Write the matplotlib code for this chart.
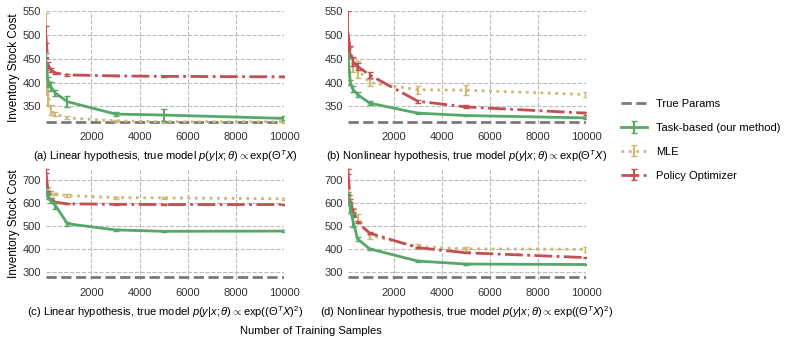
import numpy as np
import matplotlib
matplotlib.use("Agg")
from matplotlib import pyplot as plt

plt.rcParams['font.family'] = ['Liberation Sans', 'DejaVu Sans']
plt.rcParams['mathtext.fontset'] = 'custom'
plt.rcParams['mathtext.rm'] = 'Liberation Sans'
plt.rcParams['mathtext.it'] = 'Liberation Sans:italic'

# training sample sizes
n_samples = [100, 200, 300, 500, 1000, 3000, 5000, 10000]

# (a) linear hypothesis, true model exp(theta^T x)
a_true = 317
a_task = [444, 401, 392, 378, 360, 334, 332, 325]
a_task_err = [17, 10, 10, 6, 11, 4, 12, 4]
a_mle = [460, 378, 342, 334, 326, 320, 318, 318]
a_mle_err = [85, 25, 10, 5, 3, 2, 2, 2]
a_pol = [500, 437, 427, 420, 416, 414, 413, 412]
a_pol_err = [18, 6, 4, 3, 2, 1, 1, 1]

# (b) nonlinear hypothesis, true model exp(theta^T x)
b_true = 317
b_task = [455, 400, 386, 375, 357, 336, 331, 326]
b_task_err = [6, 6, 6, 6, 4, 2, 2, 2]
b_mle = [472, 462, 437, 428, 400, 385, 384, 375]
b_mle_err = [12, 12, 15, 18, 8, 8, 10, 5]
b_pol = [505, 465, 444, 434, 416, 361, 349, 336]
b_pol_err = [45, 12, 10, 8, 6, 3, 3, 3]

# (c) linear hypothesis, true model exp((theta^T x)^2)
c_true = 276
c_task = [646, 628, 609, 588, 509, 482, 476, 477]
c_task_err = [18, 12, 12, 14, 9, 5, 3, 5]
c_mle = [680, 655, 642, 638, 631, 622, 621, 617]
c_mle_err = [20, 12, 8, 6, 5, 4, 4, 4]
c_pol = [738, 645, 617, 602, 595, 593, 592, 592]
c_pol_err = [8, 6, 4, 3, 2, 2, 2, 2]

# (d) nonlinear hypothesis, true model exp((theta^T x)^2)
d_true = 276
d_task = [630, 575, 525, 443, 400, 347, 334, 332]
d_task_err = [15, 20, 30, 8, 5, 3, 3, 3]
d_mle = [695, 615, 560, 537, 458, 410, 400, 398]
d_mle_err = [50, 20, 15, 15, 15, 10, 10, 10]
d_pol = [735, 609, 566, 515, 468, 405, 383, 362]
d_pol_err = [10, 6, 5, 5, 4, 3, 3, 3]

captions = [
    r'(a) Linear hypothesis, true model $p(y|x;\theta) \propto \exp(\Theta^T X)$',
    r'(b) Nonlinear hypothesis, true model $p(y|x;\theta) \propto \exp(\Theta^T X)$',
    r'(c) Linear hypothesis, true model $p(y|x;\theta) \propto \exp((\Theta^T X)^2)$',
    r'(d) Nonlinear hypothesis, true model $p(y|x;\theta) \propto \exp((\Theta^T X)^2)$',
]

panels = [
    (a_true, a_task, a_task_err, a_mle, a_mle_err, a_pol, a_pol_err),
    (b_true, b_task, b_task_err, b_mle, b_mle_err, b_pol, b_pol_err),
    (c_true, c_task, c_task_err, c_mle, c_mle_err, c_pol, c_pol_err),
    (d_true, d_task, d_task_err, d_mle, d_mle_err, d_pol, d_pol_err),
]

green = '#55a868'
yellow = '#ccb974'
red = '#c44e52'
gray = '#7a7a7a'

fig = plt.figure(figsize=(7.89, 3.41), dpi=100)
boxes = [
    [0.058, 0.636, 0.302, 0.332],
    [0.441, 0.636, 0.302, 0.332],
    [0.058, 0.179, 0.302, 0.328],
    [0.441, 0.179, 0.302, 0.328],
]

for i, (box, data) in enumerate(zip(boxes, panels)):
    true_val, task, task_err, mle, mle_err, pol, pol_err = data
    ax = fig.add_axes(box)
    ax.plot(n_samples, [true_val] * len(n_samples), '--', color=gray,
            lw=2, label='True Params', zorder=2)
    ax.errorbar(n_samples, task, yerr=task_err, color=green, ls='-', lw=2,
                capsize=2, elinewidth=1.5, label='Task-based (our method)', zorder=5)
    ax.errorbar(n_samples, mle, yerr=mle_err, color=yellow, ls=':', lw=2,
                capsize=2, elinewidth=1.5, label='MLE', zorder=3)
    ax.errorbar(n_samples, pol, yerr=pol_err, color=red, ls='-.', lw=2,
                capsize=2, elinewidth=1.5, label='Policy Optimizer', zorder=4)

    ax.set_xlim(100, 10000)
    ax.set_xticks([2000, 4000, 6000, 8000, 10000])
    if i < 2:
        ax.set_ylim(313, 550)
        ax.set_yticks([350, 400, 450, 500, 550])
    else:
        ax.set_ylim(265, 750)
        ax.set_yticks([300, 400, 500, 600, 700])
    ax.grid(True, ls='--', color='#bbbbbb', lw=0.8)
    for s in ax.spines.values():
        s.set_visible(False)
    ax.tick_params(length=0, labelsize=8, colors='#333333')
    ax.tick_params(axis='x', pad=6)
    ax.set_xlabel(captions[i], fontsize=8, labelpad=4)
    if i % 2 == 0:
        ax.set_ylabel('Inventory Stock Cost', fontsize=8.5, labelpad=2)
    if i == 1:
        handles, labels = ax.get_legend_handles_labels()

fig.legend(handles, labels, loc='center left', bbox_to_anchor=(0.775, 0.59),
           frameon=False, fontsize=8, handlelength=2.3, labelspacing=1.25)
fig.text(0.394, 0.02, 'Number of Training Samples', ha='center', fontsize=8)

fig.savefig('out.png', dpi=100)
